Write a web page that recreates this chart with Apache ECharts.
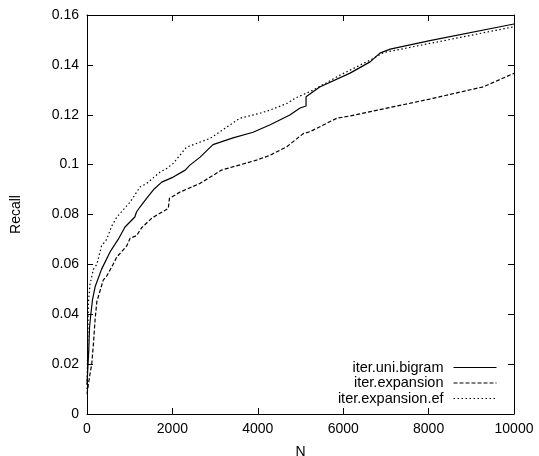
<!DOCTYPE html>
<html>
<head>
<meta charset="utf-8">
<script src="https://cdn.jsdelivr.net/npm/echarts@6/dist/echarts.min.js"></script>
<style>
html,body{margin:0;padding:0;background:#fff;}
#chart{width:539px;height:456px;}
</style>
</head>
<body>
<div id="chart"></div>
<script>
var seriesNames = ['iter.uni.bigram', 'iter.expansion', 'iter.expansion.ef'];
var xTicks = [0, 2000, 4000, 6000, 8000, 10000];

var uniX = [0, 40, 60, 90, 130, 190, 340, 540, 730, 890, 1120, 1160, 1240, 1400, 1560, 1750, 2020, 2300, 2410, 2650, 2950, 3420, 3890, 4290, 4750, 4990, 5130, 5130, 5450, 6160, 6630, 6860, 7100, 8030, 10000];
var uniY = [0.012, 0.025, 0.035, 0.040, 0.046, 0.051, 0.058, 0.065, 0.070, 0.075, 0.079, 0.081, 0.083, 0.0866, 0.090, 0.093, 0.095, 0.0978, 0.0998, 0.103, 0.108, 0.1107, 0.113, 0.116, 0.1199, 0.1227, 0.1235, 0.1272, 0.1311, 0.1367, 0.1412, 0.1447, 0.1463, 0.1497, 0.1564];

var expX = [0, 60, 110, 150, 190, 230, 380, 460, 580, 700, 930, 1010, 1160, 1280, 1515, 1905, 1930, 2180, 2650, 3150, 3970, 4290, 4680, 5070, 5220, 5850, 6160, 8030, 9280, 10000];
var expY = [0.008, 0.015, 0.020, 0.028, 0.038, 0.045, 0.0537, 0.0553, 0.059, 0.063, 0.0674, 0.0705, 0.0715, 0.0747, 0.0785, 0.0825, 0.0865, 0.089, 0.0925, 0.0978, 0.1018, 0.1038, 0.1072, 0.1125, 0.1132, 0.1186, 0.1195, 0.1263, 0.1312, 0.1366];

var efX = [0, 20, 31, 70, 150, 230, 340, 460, 580, 700, 1010, 1240, 1400, 1710, 1870, 2020, 2330, 2880, 3580, 4050, 4290, 4680, 4870, 5300, 5930, 6160, 6630, 6940, 8030, 10000];
var efY = [0.010, 0.030, 0.044, 0.052, 0.058, 0.060, 0.0674, 0.070, 0.0754, 0.079, 0.085, 0.091, 0.0925, 0.097, 0.0985, 0.1005, 0.107, 0.1105, 0.1186, 0.1206, 0.1219, 0.1245, 0.1266, 0.1299, 0.1359, 0.1379, 0.1419, 0.1449, 0.1486, 0.1553];

function zip(xs, ys) { return xs.map(function (x, i) { return [x, ys[i]]; }); }

var FONT = 'Liberation Sans';
var FS = 14;
var chart = echarts.init(document.getElementById('chart'), null, {renderer: 'canvas'});

var axisCommon = {
  type: 'value',
  axisLine: {show: true, onZero: false, lineStyle: {color: '#000', width: 1}},
  axisTick: {show: true, inside: true, length: 6, lineStyle: {color: '#000', width: 1}},
  splitLine: {show: false}
};

chart.setOption({
  animation: false,
  backgroundColor: '#fff',
  textStyle: {fontFamily: FONT, color: '#000'},
  grid: {left: 87, right: 25, top: 15, bottom: 42, containLabel: false, outerBoundsMode: 'none'},
  legend: {
    orient: 'vertical',
    right: 42,
    bottom: 50,
    align: 'right',
    padding: 0,
    itemGap: 0.5,
    itemWidth: 43,
    itemHeight: 14,
    data: seriesNames,
    itemStyle: {opacity: 0},
    lineStyle: {width: 1},
    textStyle: {fontFamily: FONT, fontSize: 14.5, color: '#000', padding: [0, 5, 0, 0]}
  },
  xAxis: [
    Object.assign({}, axisCommon, {
      position: 'bottom', min: xTicks[0], max: xTicks[xTicks.length - 1], interval: 2000,
      name: 'N', nameLocation: 'middle', nameGap: 31,
      nameTextStyle: {fontFamily: FONT, fontSize: FS, color: '#000'},
      axisLabel: {show: true, margin: 8, fontFamily: FONT, fontSize: FS, color: '#000',
        formatter: function (v) { return String(v); }}
    }),
    Object.assign({}, axisCommon, {
      position: 'top', min: xTicks[0], max: xTicks[xTicks.length - 1], interval: 2000,
      axisLabel: {show: false}
    })
  ],
  yAxis: [
    Object.assign({}, axisCommon, {
      position: 'left', min: 0, max: 0.16, interval: 0.02,
      name: 'Recall', nameLocation: 'middle', nameGap: 64, nameRotate: 90,
      nameTextStyle: {fontFamily: FONT, fontSize: FS, color: '#000'},
      axisLabel: {show: true, margin: 8, fontFamily: FONT, fontSize: FS, color: '#000',
        formatter: function (v) { return String(Math.round(v * 1000) / 1000); }}
    }),
    Object.assign({}, axisCommon, {
      position: 'right', min: 0, max: 0.16, interval: 0.02,
      axisLabel: {show: false}
    })
  ],
  series: [
    {
      name: seriesNames[0], type: 'line', xAxisIndex: 0, yAxisIndex: 0,
      data: zip(uniX, uniY), showSymbol: false, symbol: 'none',
      lineStyle: {color: '#000', width: 1.2, type: 'solid'},
      itemStyle: {color: '#000'}
    },
    {
      name: seriesNames[1], type: 'line', xAxisIndex: 0, yAxisIndex: 0,
      data: zip(expX, expY), showSymbol: false, symbol: 'none',
      lineStyle: {color: '#000', width: 1.2, type: [4, 2]},
      itemStyle: {color: '#000'}
    },
    {
      name: seriesNames[2], type: 'line', xAxisIndex: 0, yAxisIndex: 0,
      data: zip(efX, efY), showSymbol: false, symbol: 'none',
      lineStyle: {color: '#000', width: 1.2, type: [1.5, 2.5]},
      itemStyle: {color: '#000'}
    }
  ]
});
</script>
</body>
</html>
